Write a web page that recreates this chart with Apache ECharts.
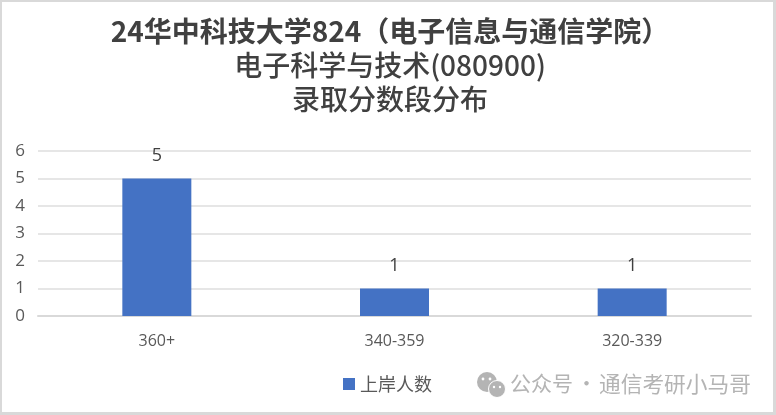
<!DOCTYPE html>
<html><head><meta charset="utf-8">
<style>html,body{margin:0;padding:0;background:#fff}#c{width:776px;height:415px}</style>
<script src="https://cdn.jsdelivr.net/npm/echarts@6/dist/echarts.min.js"></script></head>
<body><div id="c"></div>
<script>
const categories = ["360+","340-359","320-339"];
const values = [5,1,1];
const seriesName = "上岸人数";
const titleLines = ["24华中科技大学824（电子信息与通信学院）","电子科学与技术(080900)","录取分数段分布"];
const chart = echarts.init(document.getElementById('c'));
const F = '"Noto Sans CJK SC","Open Sans",sans-serif';
const L = '"Open Sans",sans-serif';
chart.setOption({
  animation:false,
  backgroundColor:'#fff',
  title:{text:'{a|'+titleLines[0]+'}\n{b|'+titleLines[1]+'}\n{b|'+titleLines[2]+'}',left:385,textAlign:'center',top:9,
    textStyle:{rich:{
      a:{fontFamily:F,fontSize:28,fontWeight:'bold',color:'#404040',lineHeight:34},
      b:{fontFamily:F,fontSize:28,fontWeight:500,color:'#404040',lineHeight:34}}}},
  grid:{left:38,right:25,top:151,height:165},
  legend:{data:[seriesName],left:338,top:370,icon:'rect',itemWidth:12,itemHeight:12,itemGap:7,textStyle:{fontFamily:F,fontSize:18,color:'#595959'}},
  xAxis:{type:'category',data:categories,axisTick:{show:false},axisLine:{lineStyle:{color:'#d9d9d9',width:2}},axisLabel:{fontFamily:L,fontSize:16,color:'#595959',margin:17}},
  yAxis:{type:'value',min:0,max:6,interval:1,axisLine:{show:false},axisTick:{show:false},splitLine:{lineStyle:{color:'#e6e6e6',width:2}},axisLabel:{fontFamily:L,fontSize:17,color:'#595959',margin:13}},
  series:[{name:seriesName,type:'bar',data:values,barWidth:69,itemStyle:{color:'#4472c4'},label:{show:true,position:'top',distance:14,fontFamily:L,fontSize:18,color:'#404040'}}],
  graphic:[
   {type:'rect',silent:true,shape:{x:0,y:0,width:775,height:414},style:{fill:'none',stroke:'#d9d9d9',lineWidth:4}},
   {type:'text',left:510,top:373,style:{text:'公众号',fontFamily:F,fontSize:21,fill:'#b4b4b4'}},
   {type:'text',left:576,top:373,style:{text:'·',fontFamily:F,fontSize:21,fill:'#b4b4b4'}},
   {type:'text',left:599,top:373,style:{text:'通信考研小马哥',fontFamily:F,fontSize:21.7,fill:'#b4b4b4'}},
   {type:'circle',shape:{cx:487,cy:382,r:10},style:{fill:'#b4b4b4'}},
   {type:'circle',shape:{cx:497,cy:389,r:8.5},style:{fill:'#b4b4b4',stroke:'#fff',lineWidth:1}},
   {type:'circle',shape:{cx:483,cy:379,r:1.4},style:{fill:'#fff'}},
   {type:'circle',shape:{cx:490,cy:379,r:1.4},style:{fill:'#fff'}},
   {type:'circle',shape:{cx:494,cy:387,r:1.2},style:{fill:'#fff'}},
   {type:'circle',shape:{cx:500,cy:387,r:1.2},style:{fill:'#fff'}}
  ]
});
</script></body></html>
